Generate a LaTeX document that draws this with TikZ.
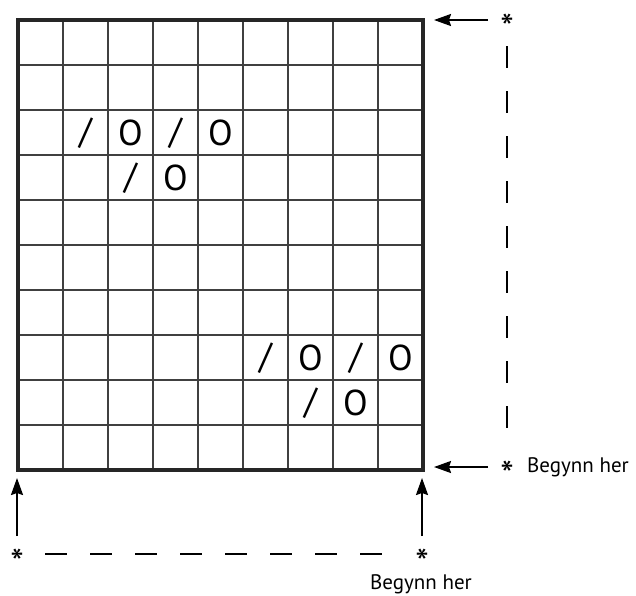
\documentclass[tikz,border=0pt]{standalone}
\usepackage{fontspec}
\setmainfont{PT Sans}
\usetikzlibrary{arrows.meta}
\newcommand{\midstar}{\smash{\raisebox{-21pt}{\scalebox{1.6}{\fontsize{24}{24}\selectfont *}}}}
\begin{document}
\begin{tikzpicture}[x=1pt,y=-1pt,
  gridline/.style={line width=1.3pt,draw=black!75},
  frame/.style={line width=3.5pt,draw=black!85},
  sym/.style={font=\fontsize{36}{36}\selectfont,inner sep=0pt,anchor=center},
  starnode/.style={inner sep=0pt,anchor=center},
  label/.style={font=\fontsize{21}{21}\selectfont,inner sep=0pt},
  arr/.style={line width=2pt,-{Stealth[length=17pt,width=12pt,inset=2pt]}},
  dash line/.style={line width=2pt,dash pattern=on 22pt off 23pt}
]
\useasboundingbox (0,0) rectangle (636,595);
% grid
\foreach \i in {1,...,8} \draw[gridline] ({18+45*\i},20) -- ({18+45*\i},470);
\foreach \j in {1,...,9} \draw[gridline] (18,{20+45*\j}) -- (423,{20+45*\j});
\draw[frame] (18,20) rectangle (423,470);
% symbols
\foreach \c/\r/\t in {1/2/{/},2/2/O,3/2/{/},4/2/O,2/3/{/},3/3/O,5/7/{/},6/7/O,7/7/{/},8/7/O,6/8/{/},7/8/O}
  \node[sym] (c\c r\r) at ({18+45*\c+22.5},{20+45*\r+23}) {\t};
% right side
\node[starnode] (s1) at (507,20) {\midstar};
\node[starnode] (s2) at (507,467) {\midstar};
\coordinate (t1) at (434,20);
\coordinate (t2) at (434,467);
\coordinate (a1) at (488,20);
\coordinate (a2) at (488,467);
\draw[arr] (a1) -- (t1);
\draw[arr] (a2) -- (t2);
\coordinate (d1) at (507,46);
\coordinate (d2) at (507,446);
\draw[dash line] (d1) -- (d2);
\node[label,anchor=west] (b1) at (527,467) {Begynn her};
% bottom
\node[starnode] (s3) at (17,555) {\midstar};
\node[starnode] (s4) at (422,555) {\midstar};
\coordinate (u1) at (17,536);
\coordinate (u2) at (422,536);
\coordinate (v1) at (17,478);
\coordinate (v2) at (422,478);
\draw[arr] (u1) -- (v1);
\draw[arr] (u2) -- (v2);
\coordinate (h1) at (45,554);
\coordinate (h2) at (400,554);
\draw[dash line] (h1) -- (h2);
\node[label] (b2) at (421,584) {Begynn her};
\end{tikzpicture}
\end{document}
